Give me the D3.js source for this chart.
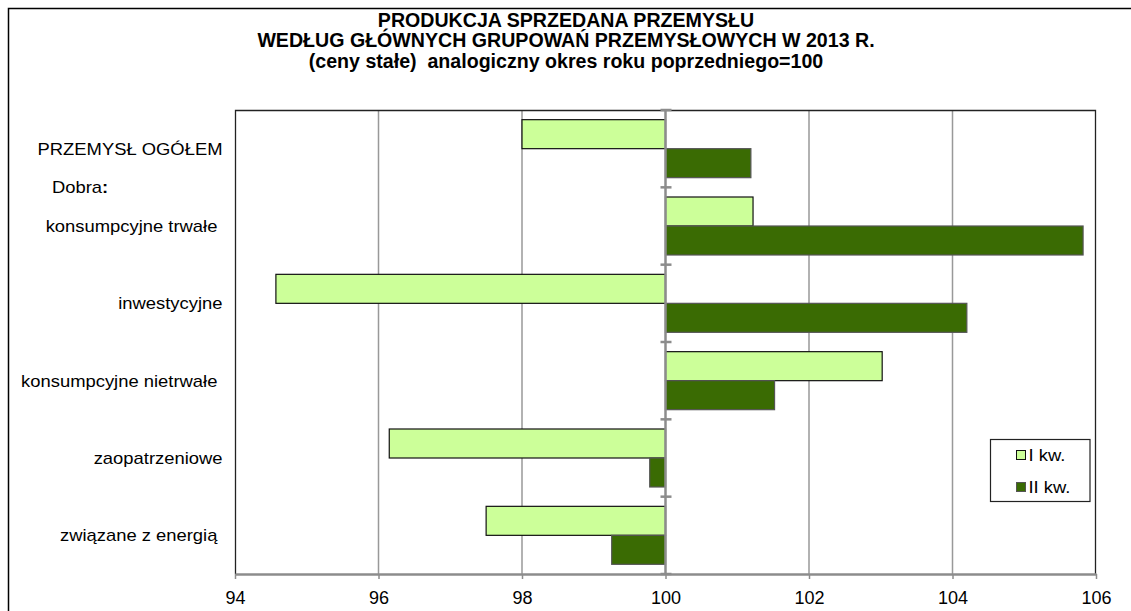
<!DOCTYPE html>
<html>
<head>
<meta charset="utf-8">
<script src="https://cdn.jsdelivr.net/npm/d3@7"></script>
<style>
  body { margin: 0; background: #fff; }
  text { font-family: "Liberation Sans", Arial, sans-serif; fill: #000; }
</style>
</head>
<body>
<div id="chart"></div>
<script>
// title lines
var titleLines = [
  "PRODUKCJA SPRZEDANA PRZEMYSŁU",
  "WEDŁUG GŁÓWNYCH GRUPOWAŃ PRZEMYSŁOWYCH W 2013 R.",
  "(ceny stałe)  analogiczny okres roku poprzedniego=100"
];

// categories (top to bottom), labels keep their trailing spaces
var categories = [
  "PRZEMYSŁ OGÓŁEM",
  "konsumpcyjne trwałe ",
  "inwestycyjne",
  "konsumpcyjne nietrwałe ",
  "zaopatrzeniowe",
  "związane z energią "
];
var groupLabel = "Dobra";

// series
var seriesNames = ["I kw.", "II kw."];
var q1 = [98.0, 101.22, 94.57, 103.02, 96.15, 97.5];
var q2 = [101.19, 105.82, 104.2, 101.52, 99.78, 99.25];
var baseValue = 100;

// x axis
var xTicks = [94, 96, 98, 100, 102, 104, 106];

var colLight = "#ccff99", colDark = "#3a6b03";

var W = 1131, H = 611;
var margin = { top: 110, right: 35, bottom: 37, left: 235 };
var width = W - margin.left - margin.right,
    height = H - margin.top - margin.bottom;

var svg = d3.select("#chart").append("svg")
  .attr("width", W)
  .attr("height", H);

// outer frame (runs off the picture on right and bottom)
svg.append("rect")
  .attr("x", 8.5).attr("y", 8.5)
  .attr("width", W + 20).attr("height", H + 20)
  .attr("fill", "none").attr("stroke", "#000").attr("stroke-width", 1.5);

// title
svg.append("g").selectAll("text")
  .data(titleLines)
  .enter().append("text")
    .attr("x", 566)
    .attr("y", function(d, i) { return 26.5 + i * 20.5; })
    .attr("text-anchor", "middle")
    .style("font-size", "19.6px")
    .style("font-weight", "bold")
    .style("white-space", "pre")
    .text(function(d) { return d; });

var g = svg.append("g")
  .attr("transform", "translate(" + margin.left + "," + margin.top + ")");

var x = d3.scaleLinear()
  .domain([xTicks[0], xTicks[xTicks.length - 1]])
  .range([0, width]);

var y = d3.scaleBand()
  .domain(categories)
  .range([0, height])
  .paddingInner(0).paddingOuter(0);

var ySub = d3.scaleBand()
  .domain(seriesNames)
  .range([0, y.bandwidth()])
  .paddingInner(0).paddingOuter(1 / 3);

///////////////////////////////////////// grid lines
g.append("g").selectAll("line")
  .data(xTicks.filter(function(d) { return d !== baseValue && d !== xTicks[0] && d !== xTicks[xTicks.length - 1]; }))
  .enter().append("line")
    .attr("x1", function(d) { return x(d); })
    .attr("x2", function(d) { return x(d); })
    .attr("y1", 0).attr("y2", height)
    .attr("stroke", "#999").attr("stroke-width", 1.5);

// plot border: left, top, right
g.append("path")
  .attr("d", "M0.5," + height + "V0.5H" + (width - 0.5) + "V" + height)
  .attr("fill", "none").attr("stroke", "#222").attr("stroke-width", 1.3);

///////////////////////////////////////// bars
var rows = categories.map(function(c, i) {
  return { cat: c, vals: [q1[i], q2[i]] };
});

var grp = g.append("g").selectAll("g")
  .data(rows)
  .enter().append("g")
    .attr("transform", function(d) { return "translate(0," + y(d.cat) + ")"; });

grp.selectAll("rect")
  .data(function(d) {
    return d.vals.map(function(v, j) { return { name: seriesNames[j], v: v }; });
  })
  .enter().append("rect")
    .attr("x", function(d) { return x(Math.min(d.v, baseValue)); })
    .attr("y", function(d) { return ySub(d.name); })
    .attr("width", function(d) { return Math.abs(x(d.v) - x(baseValue)); })
    .attr("height", ySub.bandwidth())
    .attr("fill", function(d) { return d.name === seriesNames[0] ? colLight : colDark; })
    .attr("stroke", function(d) { return d.name === seriesNames[0] ? "#111" : "#555"; })
    .attr("stroke-width", 1.2);

///////////////////////////////////////// category axis at 100
var x0 = x(baseValue);
g.append("line")
  .attr("x1", x0).attr("x2", x0)
  .attr("y1", 0).attr("y2", height)
  .attr("stroke", "#8c8c8c").attr("stroke-width", 2.5);

var bounds = categories.map(function(c) { return y(c); }).concat([height]);
g.append("g").selectAll("line")
  .data(bounds)
  .enter().append("line")
    .attr("x1", x0 - 5).attr("x2", x0 + 6)
    .attr("y1", function(d) { return d; })
    .attr("y2", function(d) { return d; })
    .attr("stroke", "#8c8c8c").attr("stroke-width", 2.5);

// category labels
g.append("g").selectAll("g")
  .data(categories)
  .enter().append("g")
    .attr("transform", function(d) {
      return "translate(" + (-12.5) + "," + (y(d) + y.bandwidth() / 2 + 6) + ") scale(1.15,1)";
    })
  .append("text")
    .attr("text-anchor", "end")
    .style("font-size", "16px")
    .style("white-space", "pre")
    .text(function(d) { return d; });

// "Dobra:" group label
var dl = g.append("g")
  .attr("transform", "translate(" + (52 - margin.left) + "," + (y(categories[1]) + 6) + ") scale(1.15,1)")
  .append("text")
    .style("font-size", "16px");
dl.append("tspan").text(groupLabel);
dl.append("tspan").style("font-weight", "bold").text(":");

///////////////////////////////////////// X axis
var xAxis = g.append("g")
  .attr("transform", "translate(0," + height + ")")
  .call(d3.axisBottom(x).tickValues(xTicks).tickSize(5).tickSizeOuter(0));
xAxis.select(".domain").attr("stroke", "#8c8c8c").attr("stroke-width", 2.5);
xAxis.selectAll(".tick line").attr("stroke", "#8c8c8c").attr("stroke-width", 1.5);
xAxis.selectAll(".tick text")
  .attr("y", 30).attr("dy", 0)
  .style("font-size", "18px")
  .style("font-family", "'Liberation Sans', Arial, sans-serif")
  .attr("fill", "#000");

///////////////////////////////////////// legend
var legend = svg.append("g").attr("transform", "translate(990.5,439.5)");
legend.append("rect")
  .attr("width", 99.5).attr("height", 62)
  .attr("fill", "#fff").attr("stroke", "#222").attr("stroke-width", 1.2);

var li = legend.selectAll(".li")
  .data(seriesNames)
  .enter().append("g")
    .attr("class", "li")
    .attr("transform", function(d, i) { return "translate(26," + (11 + i * 32) + ")"; });
li.append("rect")
  .attr("width", 9).attr("height", 9)
  .attr("fill", function(d, i) { return i === 0 ? colLight : colDark; })
  .attr("stroke", function(d, i) { return i === 0 ? "#111" : "#555"; })
  .attr("stroke-width", 1);
li.append("g")
  .attr("transform", "translate(12,10) scale(1.15,1)")
  .append("text")
    .style("font-size", "16px")
    .text(function(d) { return d; });
</script>
</body>
</html>
